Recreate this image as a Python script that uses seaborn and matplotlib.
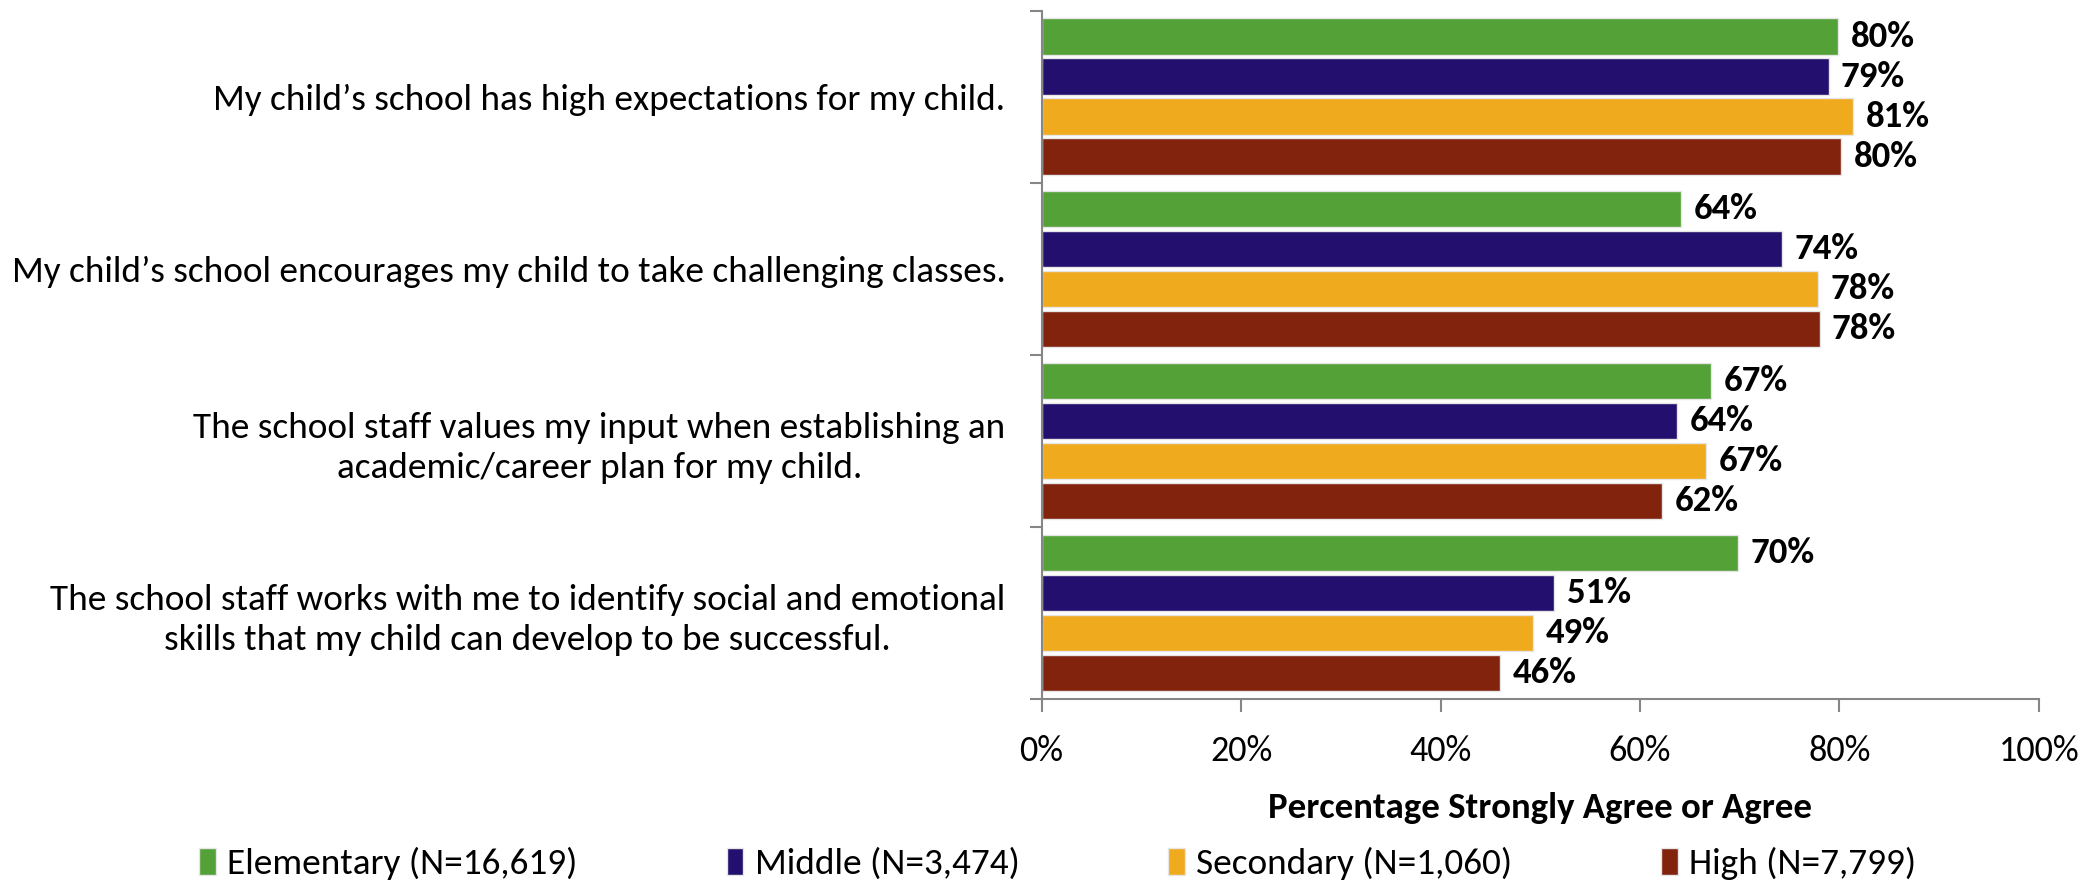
import matplotlib
matplotlib.use("Agg")
import matplotlib.pyplot as plt
from matplotlib import font_manager
from matplotlib.ticker import FixedLocator, PercentFormatter
import seaborn as sns
import pandas as pd

questions = [
    "My child\u2019s school has high expectations for my child.",
    "My child\u2019s school encourages my child to take challenging classes.",
    "The school staff values my input when establishing an\nacademic/career plan for my child.",
    "The school staff works with me to identify social and emotional\nskills that my child can develop to be successful.",
]
groups = ["Elementary (N=16,619)", "Middle (N=3,474)", "Secondary (N=1,060)", "High (N=7,799)"]
elementary = [79.9, 64.1, 67.1, 69.8]
middle = [78.9, 74.2, 63.7, 51.4]
secondary = [81.4, 77.8, 66.6, 49.3]
high = [80.2, 78.0, 62.2, 46.0]
colors = ["#53A137", "#230F6E", "#F0AA1E", "#82230E"]
xticks = [0, 20, 40, 60, 80, 100]
xlabel = "Percentage Strongly Agree or Agree"

sns.set_theme(style="white")
names = {f.name for f in font_manager.fontManager.ttflist}
if "Carlito" in names:
    fam, FS, FS_T, FS_B = "Carlito", 26.8, 26, 26.5
else:
    fam, FS, FS_T, FS_B = "Liberation Sans", 24.5, 23.5, 23.5
plt.rcParams["font.family"] = [fam, "DejaVu Sans"]
plt.rcParams["text.color"] = "black"
plt.rcParams["axes.labelcolor"] = "black"
plt.rcParams["xtick.labelcolor"] = "black"
plt.rcParams["ytick.labelcolor"] = "black"

rows = []
for g, vals in zip(groups, [elementary, middle, secondary, high]):
    for q, v in zip(questions, vals):
        rows.append({"question": q, "group": g, "value": v})
df = pd.DataFrame(rows)

fig = plt.figure(figsize=(20.99, 8.84), dpi=100)
ax = fig.add_axes([0.4962, 0.2093, 0.4752, 0.7787])

sns.barplot(data=df, y="question", x="value", hue="group", order=questions,
            hue_order=groups, palette=colors, saturation=1, orient="h",
            width=0.93, gap=0.09, edgecolor="#E6E6E6", linewidth=1.0, ax=ax,
            legend=True)

for c in ax.containers:
    ax.bar_label(c, labels=[f"{v:.0f}%" for v in c.datavalues], padding=9,
                 fontsize=FS_B, fontweight="bold", color="black")

ax.set_xlim(0, 100)
ax.set_ylim(3.5, -0.5)
ax.xaxis.set_major_locator(FixedLocator(xticks))
ax.xaxis.set_major_formatter(PercentFormatter(100, decimals=0))
ax.tick_params(axis="x", which="major", direction="out", length=9, width=1.5,
               color="#868686", labelsize=FS_T, pad=17, bottom=True)
ax.yaxis.set_minor_locator(FixedLocator([-0.5, 0.5, 1.5, 2.5, 3.5]))
ax.tick_params(axis="y", which="major", length=0, labelsize=FS, pad=26)
ax.tick_params(axis="y", which="minor", direction="out", length=9, width=1.5,
               color="#868686", left=True)
for t in ax.get_yticklabels():
    t.set_multialignment("center")
    t.set_linespacing(1.3)

for s in ["top", "right"]:
    ax.spines[s].set_visible(False)
for s in ["left", "bottom"]:
    ax.spines[s].set_color("#868686")
    ax.spines[s].set_linewidth(1.5)

ax.set_ylabel("")
ax.set_xlabel(xlabel, fontsize=FS_B, fontweight="bold", labelpad=18)

handles, labels = ax.get_legend_handles_labels()
ax.get_legend().remove()
fig.legend(handles, labels, loc="center", bbox_to_anchor=(0.504, 0.023), ncol=4,
           frameon=False, fontsize=FS, handlelength=0.45, handleheight=0.75,
           handletextpad=0.3, columnspacing=4.0)

fig.savefig("out.png", dpi=100)
